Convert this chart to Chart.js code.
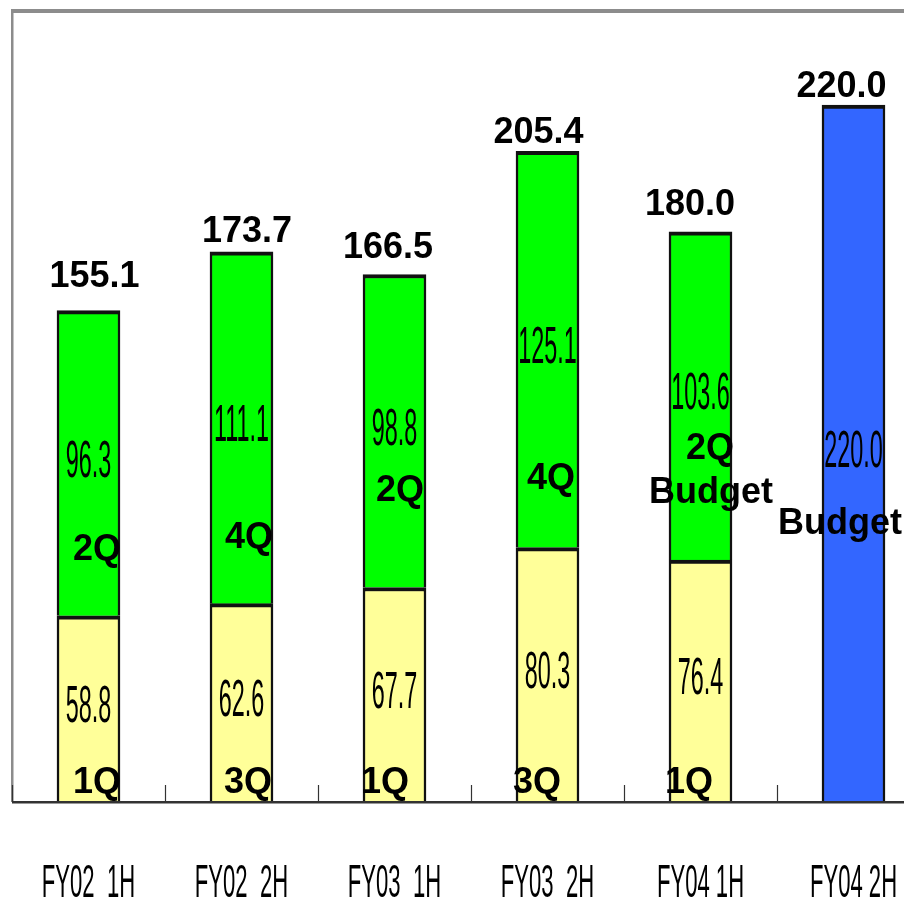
<!DOCTYPE html>
<html>
<head>
<meta charset="utf-8">
<script src="https://cdn.jsdelivr.net/npm/chart.js@4.4.0/dist/chart.umd.min.js"></script>
<style>
  html,body{margin:0;padding:0;background:#fff;overflow:hidden;}
  #wrap{width:940px;height:902px;}
</style>
</head>
<body>
<div id="wrap"><canvas id="c" width="940" height="902"></canvas></div>
<script>
// ---- data ----
const categories = ['FY02  1H', 'FY02  2H', 'FY03  1H', 'FY03  2H', 'FY04 1H', 'FY04 2H'];
const firstQuarterOfHalf  = [58.8, 62.6, 67.7, 80.3, 76.4, null];
const secondQuarterOfHalf = [96.3, 111.1, 98.8, 125.1, 103.6, null];
const budgetHalf          = [null, null, null, null, null, 220.0];
const halfTotals          = [155.1, 173.7, 166.5, 205.4, 180.0, 220.0];
const lowerQuarterNames   = ['1Q', '3Q', '1Q', '3Q', '1Q', null];
const upperQuarterNames   = ['2Q', '4Q', '2Q', '4Q', '2Q', null];
const budgetNames         = [null, null, null, null, 'Budget', 'Budget'];
const yMax = 250;

// ---- styling / placement (not data) ----
const totalDx   = [6, 5.5, -6.5, -9, -10.5, -12];
const totalGap  = [24, 10, 17, 8, 17, 8];
const lowerQPos = [{dx:8.5,v:7.1},{dx:6.5,v:7.1},{dx:-9.5,v:7.1},{dx:-10.5,v:7.1},{dx:-11.5,v:7.1},null];
const upperQPos = [{dx:8.5,v:80.5},{dx:7.5,v:84.3},{dx:5.5,v:99.1},{dx:3.5,v:102.9},{dx:9.5,v:112.4},null];
const budgetPos = [null,null,null,null,{dx:10.5,v:98.6},{dx:-13.5,v:88.8}];

function drawText(ctx, text, cx, baseline, size, sx, bold) {
  ctx.save();
  ctx.translate(cx, baseline);
  ctx.scale(sx, 1);
  ctx.font = (bold ? 'bold ' : '') + size + 'px "Liberation Sans", Arial, sans-serif';
  ctx.textAlign = 'center';
  ctx.textBaseline = 'alphabetic';
  ctx.fillStyle = '#000';
  ctx.fillText(text, 0, 0);
  ctx.restore();
}

const decorPlugin = {
  id: 'decor',
  afterDatasetsDraw(chart) {
    const {ctx, chartArea: a, scales: {x, y}} = chart;
    ctx.save();
    // frame
    ctx.fillStyle = '#8c8c8c';
    ctx.fillRect(a.left - 1, a.top - 1, chart.width, 4);
    ctx.fillRect(a.left - 1, a.top - 1, 2.5, a.bottom - a.top + 1);
    // baseline
    ctx.fillStyle = '#333';
    ctx.fillRect(a.left, a.bottom - 1, chart.width, 2.5);
    // ticks at category boundaries
    const n = categories.length;
    const w = (a.right - a.left) / n;
    ctx.strokeStyle = '#333';
    ctx.lineWidth = 1.2;
    for (let i = 0; i <= n; i++) {
      const px = Math.round(a.left + i * w) + 0.5;
      ctx.beginPath();
      ctx.moveTo(px, a.bottom - 17);
      ctx.lineTo(px, a.bottom);
      ctx.stroke();
    }
    // segment values
    chart.data.datasets.forEach((ds, di) => {
      const meta = chart.getDatasetMeta(di);
      meta.data.forEach((bar, i) => {
        const v = ds.data[i];
        if (v == null) return;
        const p = bar.getProps(['x', 'y', 'base'], true);
        const mid = (p.y + p.base) / 2 - 5;
        drawText(ctx, v.toFixed(1), p.x, mid + 18.5, 52, 0.45, false);
      });
    });
    // totals
    halfTotals.forEach((t, i) => {
      const cx = x.getPixelForValue(i) + totalDx[i];
      const top = y.getPixelForValue(t);
      drawText(ctx, t.toFixed(1), cx, top - totalGap[i], 36, 1, true);
    });
    // quarter names
    const put = (names, pos) => names.forEach((s, i) => {
      if (!s || !pos[i]) return;
      const cx = x.getPixelForValue(i) + pos[i].dx;
      const cy = y.getPixelForValue(pos[i].v);
      drawText(ctx, s, cx, cy + 13, 36, 1, true);
    });
    put(lowerQuarterNames, lowerQPos);
    put(upperQuarterNames, upperQPos);
    put(budgetNames, budgetPos);
    // category labels
    categories.forEach((c, i) => {
      drawText(ctx, c, x.getPixelForValue(i), 897, 47, 0.47, false);
    });
    ctx.restore();
  }
};

const barStyle = {
  borderColor: '#111',
  borderWidth: {top: 4, left: 2.5, right: 2.5, bottom: 0},
  borderSkipped: false,
  barThickness: 63
};

new Chart(document.getElementById('c'), {
  type: 'bar',
  data: {
    labels: categories,
    datasets: [
      Object.assign({label: 'Q lower', data: firstQuarterOfHalf, backgroundColor: '#ffff99'}, barStyle),
      Object.assign({label: 'Q upper', data: secondQuarterOfHalf, backgroundColor: '#00ff00'}, barStyle),
      Object.assign({label: 'Budget', data: budgetHalf, backgroundColor: '#3366ff'}, barStyle)
    ]
  },
  options: {
    responsive: false,
    animation: false,
    devicePixelRatio: 1,
    layout: {padding: {left: 12, top: 10, right: 10, bottom: 100}},
    plugins: {legend: {display: false}, tooltip: {enabled: false}},
    scales: {
      x: {stacked: true, display: false, offset: true},
      y: {stacked: true, display: false, min: 0, max: yMax}
    }
  },
  plugins: [decorPlugin]
});
</script>
</body>
</html>
